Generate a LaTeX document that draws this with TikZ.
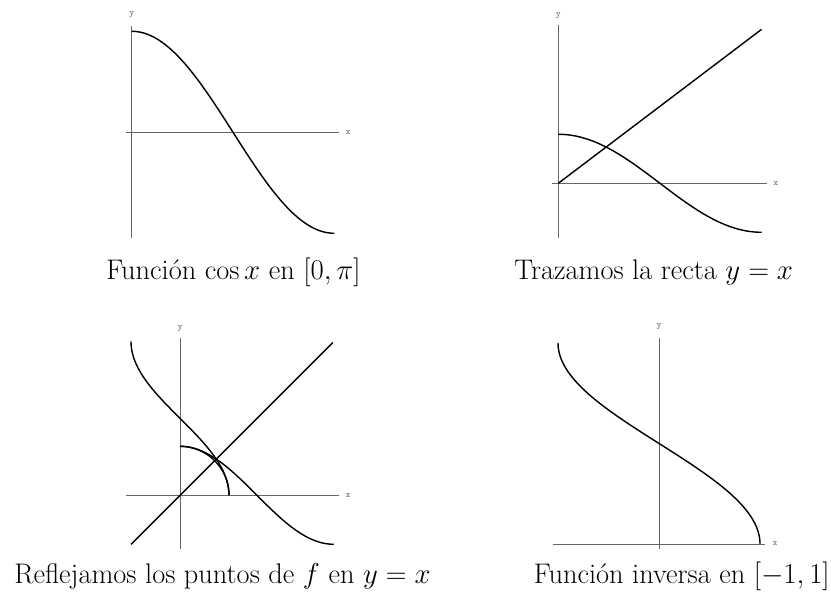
\documentclass[tikz,border=0pt]{standalone}
\usepackage{amsmath,amssymb}
\usepackage{fontspec}
\usepackage{tikz}
\usetikzlibrary{positioning,calc}
\usepackage{xcolor}

\begin{document}
\begin{tikzpicture}[x=0.6pt,y=0.6pt,
  axis/.style={draw=black!60,line width=0.55pt},
  curve/.style={line width=0.85pt,smooth,samples=90},
  axlabel/.style={font=\ttfamily\fontsize{5.5}{6}\selectfont,text=black!60,inner sep=0pt},
  caption/.style={font=\fontsize{17}{20}\selectfont,inner sep=0pt}]
\useasboundingbox (0,0) rectangle (831,593);
% f(x) = cos x
\begin{scope}[shift={(131.7,460.7)},xscale=64.5,yscale=101]
\draw[axis] (-0.09,0) -- (3.21,0);
\draw[axis] (0,-1.05) -- (0,1.05);
\node[axlabel] (x1) at (3.36,0) {x};
\node[axlabel] (y1) at (0,1.17) {y};
\draw[curve] plot[domain=0:pi] (\x,{cos(\x r)});
\end{scope}
% recta y = x
\begin{scope}[shift={(558.3,409.7)},xscale=64.7,yscale=49]
\draw[axis] (-0.09,0) -- (3.22,0);
\draw[axis] (0,-1.12) -- (0,3.23);
\node[axlabel] (x2) at (3.36,0) {x};
\node[axlabel] (y2) at (0,3.43) {y};
\draw[curve] plot[domain=0:pi] (\x,{cos(\x r)});
\draw[curve] (0,0) -- (pi,pi);
\end{scope}
% reflejo
\begin{scope}[shift={(180,97.7)},scale=49]
\draw[axis] (-1.1,0) -- (3.24,0);
\draw[axis] (0,-1.1) -- (0,3.22);
\node[axlabel] (x3) at (3.43,0) {x};
\node[axlabel] (y3) at (0,3.4) {y};
\draw[curve] plot[domain=0:pi] (\x,{cos(\x r)});
\draw[curve] plot[domain=0:pi] ({cos(\x r)},\x);
\draw[curve] (-1,-1) -- (3.12,3.12);
\draw[curve] (0,1) arc[start angle=90,end angle=0,radius=1];
\end{scope}
% inversa
\begin{scope}[shift={(659,49)},xscale=101,yscale=64]
\draw[axis] (-1.05,0) -- (1.05,0);
\draw[axis] (0,-0.08) -- (0,3.22);
\node[axlabel] (x4) at (1.15,0) {x};
\node[axlabel] (y4) at (0,3.4) {y};
\draw[curve] plot[domain=0:pi] ({cos(\x r)},\x);
\end{scope}
\node[caption,anchor=base west] (c1) at (106,313) {Función $\cos x$ en $[0,\pi]$};
\node[caption,anchor=base west] (c2) at (514,313) {Trazamos la recta $y=x$};
\node[caption,anchor=base west] (c3) at (14,9) {Reflejamos los puntos de $f$ en $y=x$};
\node[caption,anchor=base east] (c4) at (830,9) {Función inversa en $[-1,1]$};
\end{tikzpicture}
\end{document}
